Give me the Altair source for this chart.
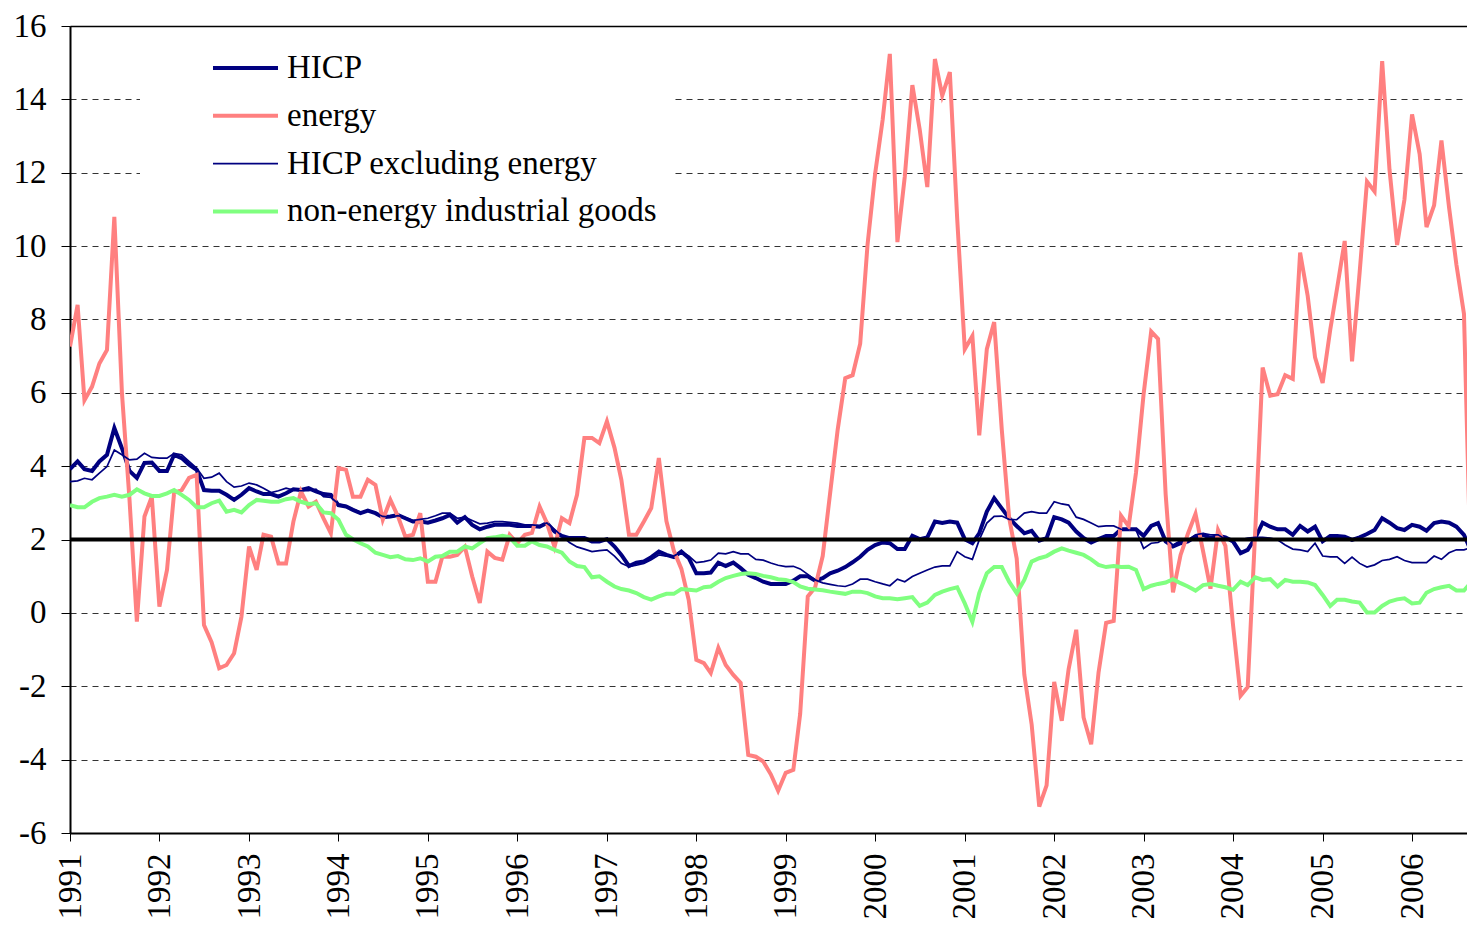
import altair as alt
import pandas as pd

SERIES = ["HICP", "energy", "HICP excluding energy", "non-energy industrial goods"]
COLORS = ["#000080", "#FF8080", "#000080", "#80FF80"]
START = "1991-01-01"
N_MONTHS = 189
YEARS = list(range(1991, 2007))
Y_TICKS = list(range(-6, 17, 2))
TARGET = [2]

HICP = [
    3.92, 4.13, 3.92, 3.87, 4.13, 4.31, 5.04, 4.49, 3.87, 3.68,
    4.09, 4.10, 3.87, 3.87, 4.31, 4.22, 4.04, 3.90, 3.35, 3.33,
    3.33, 3.22, 3.08, 3.22, 3.40, 3.31, 3.24, 3.24, 3.17, 3.26,
    3.37, 3.35, 3.40, 3.31, 3.24, 3.22, 2.94, 2.90, 2.81, 2.72,
    2.79, 2.72, 2.61, 2.63, 2.67, 2.58, 2.49, 2.49, 2.46, 2.52,
    2.58, 2.67, 2.46, 2.61, 2.40, 2.28, 2.35, 2.40, 2.40, 2.40,
    2.37, 2.37, 2.37, 2.35, 2.45, 2.22, 2.10, 2.04, 2.04, 2.04,
    1.95, 1.95, 2.01, 1.81, 1.58, 1.28, 1.37, 1.40, 1.52, 1.67,
    1.58, 1.52, 1.67, 1.50, 1.08, 1.08, 1.10, 1.37, 1.28, 1.37,
    1.22, 1.04, 0.95, 0.85, 0.79, 0.79, 0.79, 0.88, 1.00, 1.00,
    0.88, 0.95, 1.08, 1.15, 1.25, 1.38, 1.53, 1.72, 1.85, 1.92,
    1.90, 1.74, 1.74, 2.10, 2.01, 2.06, 2.49, 2.45, 2.49, 2.46,
    2.01, 1.90, 2.17, 2.76, 3.13, 2.85, 2.58, 2.37, 2.17, 2.24,
    1.97, 2.04, 2.61, 2.55, 2.46, 2.22, 2.04, 1.92, 2.01, 2.10,
    2.10, 2.28, 2.28, 2.28, 2.10, 2.37, 2.45, 1.95, 1.81, 1.90,
    1.95, 2.08, 2.13, 2.04, 2.10, 2.06, 1.95, 1.63, 1.72, 2.04,
    2.46, 2.35, 2.28, 2.28, 2.13, 2.37, 2.22, 2.35, 1.95, 2.10,
    2.10, 2.08, 1.99, 2.06, 2.15, 2.26, 2.58, 2.46, 2.31, 2.26,
    2.40, 2.35, 2.24, 2.45, 2.49, 2.46, 2.35, 2.13, 1.65,
]

ENERGY = [
    7.26, 8.40, 5.80, 6.17, 6.80, 7.17, 10.80, 6.00, 3.08, -0.24,
    2.63, 3.17, 0.17, 1.17, 3.27, 3.35, 3.68, 3.76, -0.33, -0.80,
    -1.51, -1.42, -1.10, -0.10, 1.81, 1.17, 2.13, 2.08, 1.35, 1.35,
    2.49, 3.31, 2.90, 3.03, 2.58, 2.17, 3.95, 3.90, 3.17, 3.17,
    3.63, 3.49, 2.54, 3.08, 2.63, 2.08, 2.13, 2.72, 0.85, 0.85,
    1.53, 1.53, 1.58, 1.80, 0.99, 0.27, 1.67, 1.50, 1.45, 2.13,
    1.90, 2.13, 2.18, 2.90, 2.45, 1.80, 2.58, 2.45, 3.22, 4.77,
    4.77, 4.63, 5.22, 4.50, 3.63, 2.13, 2.13, 2.49, 2.86, 4.22,
    2.50, 1.70, 1.20, 0.35, -1.28, -1.37, -1.64, -0.95, -1.42, -1.69,
    -1.91, -3.87, -3.92, -4.05, -4.40, -4.85, -4.36, -4.28, -2.75, 0.45,
    0.70, 1.55, 3.25, 4.99, 6.40, 6.48, 7.34, 10.04, 11.97, 13.46,
    15.24, 10.11, 11.89, 14.39, 13.18, 11.61, 15.10, 14.10, 14.74, 10.75,
    7.19, 7.55, 4.84, 7.19, 7.93, 5.00, 2.60, 1.48, -1.68, -3.04,
    -5.28, -4.70, -1.88, -2.94, -1.53, -0.46, -2.85, -3.58, -1.63, -0.27,
    -0.22, 2.65, 2.36, 3.82, 5.96, 7.67, 7.47, 3.24, 0.56, 1.58,
    2.16, 2.70, 1.68, 0.66, 2.26, 1.83, -0.32, -2.26, -2.02, 2.26,
    6.69, 5.92, 5.96, 6.48, 6.38, 9.82, 8.64, 6.97, 6.27, 7.72,
    8.85, 10.14, 6.86, 9.28, 11.76, 11.49, 15.04, 12.08, 10.03, 11.27,
    13.59, 12.51, 10.52, 11.11, 12.88, 11.06, 9.50, 8.15, 0.25,
]

HICP_EX_ENERGY = [
    3.58, 3.60, 3.67, 3.63, 3.81, 3.99, 4.44, 4.31, 4.17, 4.19,
    4.35, 4.24, 4.22, 4.22, 4.35, 4.31, 4.13, 3.95, 3.67, 3.70,
    3.81, 3.58, 3.43, 3.46, 3.54, 3.49, 3.40, 3.28, 3.33, 3.40,
    3.35, 3.33, 3.33, 3.37, 3.17, 3.15, 2.97, 2.92, 2.83, 2.74,
    2.79, 2.72, 2.63, 2.61, 2.65, 2.60, 2.52, 2.55, 2.58, 2.65,
    2.72, 2.72, 2.58, 2.61, 2.52, 2.43, 2.45, 2.49, 2.49, 2.47,
    2.45, 2.40, 2.40, 2.38, 2.45, 2.28, 2.10, 1.92, 1.80, 1.74,
    1.67, 1.70, 1.72, 1.55, 1.35, 1.26, 1.30, 1.35, 1.45, 1.58,
    1.55, 1.55, 1.67, 1.55, 1.37, 1.40, 1.44, 1.63, 1.61, 1.67,
    1.61, 1.61, 1.46, 1.44, 1.36, 1.30, 1.26, 1.27, 1.20, 1.05,
    0.90, 0.82, 0.78, 0.74, 0.72, 0.79, 0.92, 0.92, 0.85, 0.79,
    0.74, 0.92, 0.85, 0.99, 1.08, 1.17, 1.25, 1.28, 1.28, 1.67,
    1.53, 1.46, 1.99, 2.45, 2.63, 2.64, 2.55, 2.54, 2.72, 2.76,
    2.72, 2.72, 3.03, 2.97, 2.94, 2.61, 2.55, 2.45, 2.35, 2.37,
    2.37, 2.28, 2.26, 2.26, 1.76, 1.90, 1.92, 2.04, 1.85, 1.97,
    1.99, 2.13, 2.17, 2.13, 2.13, 2.01, 1.99, 1.99, 2.04, 2.06,
    2.06, 2.04, 1.99, 1.85, 1.74, 1.72, 1.67, 1.90, 1.55, 1.53,
    1.53, 1.35, 1.52, 1.35, 1.25, 1.31, 1.43, 1.46, 1.53, 1.43,
    1.37, 1.37, 1.37, 1.55, 1.46, 1.64, 1.72, 1.72, 1.78,
]

NON_ENERGY_GOODS = [
    2.94, 2.88, 2.88, 3.03, 3.13, 3.17, 3.22, 3.17, 3.22, 3.37,
    3.26, 3.19, 3.19, 3.26, 3.35, 3.22, 3.08, 2.88, 2.88, 2.99,
    3.06, 2.76, 2.81, 2.74, 2.94, 3.08, 3.06, 3.03, 3.03, 3.10,
    3.13, 3.03, 2.97, 2.99, 2.74, 2.72, 2.54, 2.13, 2.01, 1.90,
    1.81, 1.64, 1.58, 1.52, 1.55, 1.46, 1.44, 1.49, 1.40, 1.53,
    1.55, 1.67, 1.67, 1.81, 1.76, 1.90, 2.04, 2.06, 2.10, 2.06,
    1.83, 1.83, 1.95, 1.85, 1.81, 1.72, 1.64, 1.40, 1.28, 1.25,
    0.97, 1.00, 0.85, 0.72, 0.65, 0.61, 0.54, 0.43, 0.36, 0.45,
    0.52, 0.52, 0.65, 0.63, 0.61, 0.70, 0.72, 0.85, 0.95, 1.01,
    1.06, 1.08, 1.06, 1.01, 0.97, 0.92, 0.90, 0.84, 0.72, 0.66,
    0.64, 0.62, 0.58, 0.55, 0.52, 0.58, 0.58, 0.54, 0.45, 0.40,
    0.40, 0.37, 0.40, 0.43, 0.19, 0.28, 0.49, 0.58, 0.65, 0.70,
    0.26, -0.24, 0.54, 1.08, 1.25, 1.25, 0.85, 0.54, 0.90, 1.40,
    1.49, 1.55, 1.67, 1.76, 1.70, 1.64, 1.58, 1.46, 1.31, 1.25,
    1.28, 1.25, 1.26, 1.17, 0.65, 0.74, 0.79, 0.83, 0.92, 0.81,
    0.72, 0.61, 0.76, 0.79, 0.74, 0.70, 0.63, 0.85, 0.76, 0.97,
    0.90, 0.92, 0.72, 0.90, 0.85, 0.85, 0.83, 0.76, 0.49, 0.19,
    0.36, 0.36, 0.31, 0.28, 0.01, 0.01, 0.19, 0.31, 0.37, 0.40,
    0.26, 0.28, 0.55, 0.65, 0.70, 0.74, 0.61, 0.61, 0.85,
]

FONT = "Liberation Serif"
VALUES = [HICP, ENERGY, HICP_EX_ENERGY, NON_ENERGY_GOODS]
LINE_WIDTHS = [4, 4, 1.7, 4]

dates = pd.date_range(START, periods=N_MONTHS, freq="MS")
rows = []
for name, vals in zip(SERIES, VALUES):
    for d, v in zip(dates, vals):
        rows.append({"date": d, "value": v, "series": name})
df = pd.DataFrame(rows)
target_df = pd.DataFrame({"value": TARGET})

x_scale = alt.Scale(
    domain=[alt.DateTime(year=1991, month=1, date=1), alt.DateTime(year=2006, month=9, date=15)],
    nice=False,
)
y_scale = alt.Scale(domain=[-6, 16], nice=False, zero=False)

x_axis = alt.Axis(
    values=[alt.DateTime(year=y, month=1, date=1) for y in YEARS],
    format="%Y",
    labelAngle=270,
    labelAlign="right",
    labelBaseline="middle",
    labelFont=FONT,
    labelFontSize=33,
    labelColor="black",
    labelPadding=12,
    labelOverlap=False,
    labelFlush=False,
    tickSize=8,
    tickColor="black",
    tickWidth=1,
    domainColor="black",
    domainWidth=2,
    grid=False,
    title=None,
)
y_axis = alt.Axis(
    values=Y_TICKS,
    labelExpr="datum.value < 0 ? '-' + toString(-datum.value) : toString(datum.value)",
    labelFont=FONT,
    labelFontSize=33,
    labelColor="black",
    labelPadding=15,
    labelOverlap=False,
    labelFlush=False,
    tickSize=9,
    tickColor="black",
    tickWidth=1,
    domainColor="black",
    domainWidth=2,
    grid=True,
    gridDash=[6, 5],
    gridColor="#333333",
    gridWidth=1,
    title=None,
)

legend = alt.Legend(
    title=None,
    orient="none",
    legendX=70,
    legendY=10.5,
    direction="vertical",
    fillColor="white",
    padding=15,
    symbolType="M-6,0H6",
    symbolSize=117.4,
    symbolOffset=74,
    symbolStrokeWidth={"expr": "datum.value === 'HICP excluding energy' ? 1.7 : 4"},
    labelOffset=25,
    rowPadding=13.8,
    labelFont=FONT,
    labelFontSize=33,
    labelColor="black",
    labelLimit=1000,
)

X = alt.X("date:T", scale=x_scale, axis=x_axis)
Y = alt.Y("value:Q", scale=y_scale, axis=y_axis)
C = alt.Color("series:N", scale=alt.Scale(domain=SERIES, range=COLORS), legend=legend)

line_layers = []
for name, w in zip(SERIES, LINE_WIDTHS):
    line_layers.append(
        alt.Chart(df)
        .transform_filter(alt.datum.series == name)
        .mark_line(strokeWidth=w, strokeJoin="miter", clip=True)
        .encode(x=X, y=Y, color=C)
    )

target_rule = (
    alt.Chart(target_df)
    .mark_rule(color="black", strokeWidth=4)
    .encode(y=Y)
)

main = alt.layer(*line_layers, target_rule)

border = (
    alt.Chart(df)
    .transform_filter(alt.datum.series == SERIES[0])
    .mark_line(opacity=0)
    .encode(
        x=alt.X(
            "date:T",
            scale=x_scale,
            axis=alt.Axis(orient="top", labels=False, ticks=False, grid=False,
                          domainColor="black", domainWidth=1.5, title=None),
        ),
        y=Y,
    )
)

chart = (
    alt.layer(main, border)
    .resolve_axis(x="independent")
    .properties(
        width=1405,
        height=807,
        padding={"left": 62, "top": 18, "right": -8, "bottom": 86},
        autosize=alt.AutoSizeParams(type="none"),
        background="white",
    )
    .configure_view(stroke=None)
)

chart.save("out.html", embed_options={"renderer": "svg", "actions": False})
